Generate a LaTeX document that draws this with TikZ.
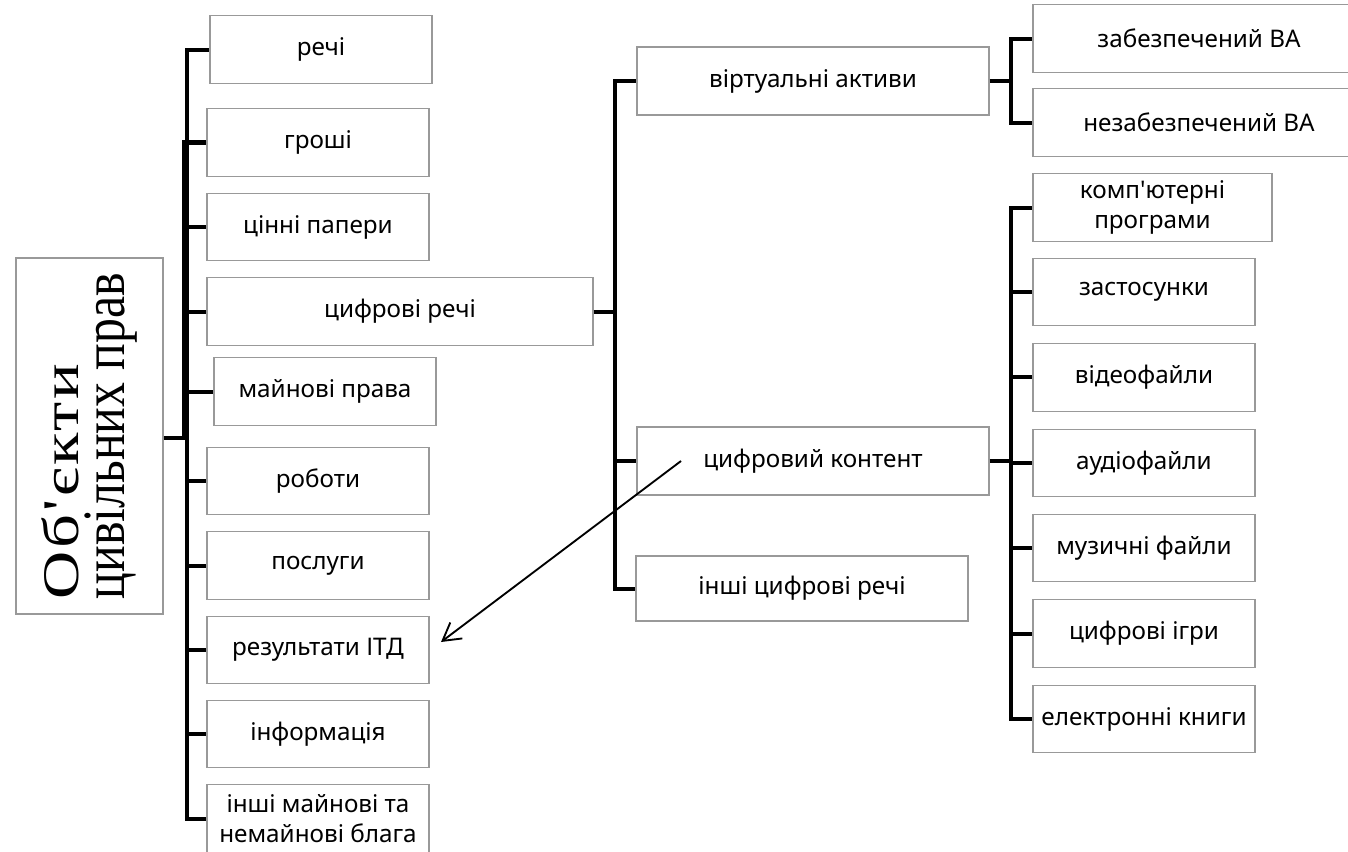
\documentclass[tikz,border=0pt]{standalone}
\usepackage{fontspec}
\newfontfamily\boxfont[Ligatures=TeXOff]{Noto Sans}
\newfontfamily\titlefont{Liberation Serif}
\usetikzlibrary{arrows.meta}
\usetikzlibrary{positioning}

\begin{document}
\begin{tikzpicture}[x=0.75pt, y=-0.75pt,
				internal/.style={draw=black!40, line width=0.8pt, rectangle, inner sep=2pt, minimum width=166.5pt, minimum height=50.5pt, font=\boxfont\fontsize{18.2}{22.5}\selectfont},
				bus/.style={draw, line width=3pt},
				every text node part/.style={align=center}]
				\useasboundingbox (0,0) rectangle (1348,851);
				
				% root
				\node[internal, rotate=90, every text node part/.style={align=left}, minimum width=267pt, minimum height=110.25pt, font=\titlefont\fontsize{38.5}{34}\selectfont](node0) at (89.5,436) {\scalebox{1.3}[1]{\addfontfeature{LetterSpace=4}Об'єкти}\\\scalebox{0.83}[1]{\fontsize{45}{34}\selectfont цивільних прав}};
				
				% first level
				\node[internal](node1) at (321,49.5) {речі};
				\node[internal](node2) at (318,142.5) {гроші};
				\node[internal](node3) at (318,227) {цінні папери};
				\node[internal, minimum width=289.5pt](node4) at (400,311.5) {цифрові речі};
				\node[internal](node5) at (325,391.5) {майнові права};
				\node[internal](node6) at (318,481) {роботи};
				\node[internal](node7) at (318,565.5) {послуги};
				\node[internal](node8) at (318,650) {результати ІТД};
				\node[internal](node9) at (318,734) {інформація};
				\node[internal](node10) at (318,818.5) {інші майнові та\\немайнові блага};
				
				% digital things
				\node[internal, minimum width=264pt, minimum height=51pt](node41) at (813,81) {віртуальні активи};
				\node[internal, minimum width=264pt, minimum height=51pt](node42) at (813,461) {цифровий контент};
				\node[internal, minimum width=249pt, minimum height=48.75pt](node43) at (802,588.5) {інші цифрові речі};
				
				\node[internal, minimum width=249pt](node411) at (1199,38.5) {забезпечений ВА};
				\node[internal, minimum width=249pt](node412) at (1199,122.5) {незабезпечений ВА};
				
				\node[internal, minimum width=179.25pt](node421) at (1152.5,207.5) {комп'ютерні\\програми};
				\node[internal](node422) at (1144,292) {застосунки};
				\node[internal, below=12.75pt of node422](node423) {відеофайли};
				\node[internal, below=12.75pt of node423](node424) {аудіофайли};
				\node[internal, below=12.75pt of node424](node425) {музичні файли};
				\node[internal, below=12.75pt of node425](node426) {цифрові ігри};
				\node[internal, below=12.75pt of node426](node427) {електронні книги};
				
				% buses
				\coordinate (b0) at (187,438);
				\coordinate (b4) at (615,311.5);
				\coordinate (b41) at (1011,81);
				\coordinate (b42) at (1011,461);
				
				\draw[bus] (node0.south |- b0) -- (b0);
				\foreach \n in {1,...,10}
					\draw[bus] (b0) |- (node\n.west);
				\draw[bus, line width=4pt] ([xshift=-1.5]b0) |- (node2.west);
				
				\draw[bus] (node4.east) -- (b4);
				\foreach \n in {41,42,43}
					\draw[bus] (b4) |- (node\n.west);
				
				\draw[bus] (node41.east) -- (b41);
				\foreach \n in {411,412}
					\draw[bus] (b41) |- (node\n.west);
				
				\draw[bus] (node42.east) -- (b42);
				\foreach \n in {421,...,427}
					\draw[bus] (b42) |- (node\n.west);
				
				% link
				\coordinate (a1) at (681,461);
				\coordinate (a2) at (441,642);
				\draw[-{Straight Barb[length=13pt,width=15pt]}, line width=1.4pt] (a1) -- (a2);
				
			\end{tikzpicture}
\end{document}
